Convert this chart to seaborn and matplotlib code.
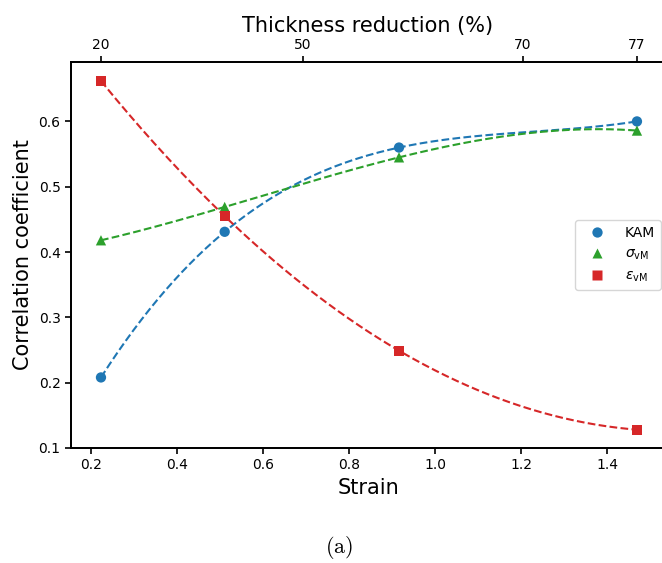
import numpy as np
import pandas as pd
import matplotlib
matplotlib.use("Agg")
import matplotlib.pyplot as plt
import seaborn as sns

# thickness reductions (%) of the four samples, strain = -ln(1 - r)
reduction = [20, 40, 60, 77]
kam = [0.208, 0.431, 0.560, 0.600]
sigma_vm = [0.418, 0.469, 0.545, 0.586]
eps_vm = [0.662, 0.455, 0.249, 0.128]

series_names = ["KAM", r"$\sigma_{\rm vM}$", r"$\varepsilon_{\rm vM}$"]
series_vals = [kam, sigma_vm, eps_vm]
colors = ["#1f77b4", "#2ca02c", "#d62728"]
marker_list = ["o", "^", "s"]

top_ticks = [20, 50, 70, 77]

strain = -np.log(1 - np.array(reduction) / 100.0)

# points table
pts = pd.DataFrame({
    "strain": np.tile(strain, 3),
    "value": np.concatenate(series_vals),
    "series": np.repeat(series_names, len(strain)),
})

# cubic fit through each series for the dashed curves
grid = np.linspace(strain.min(), strain.max(), 200)
fit_rows = []
for name, vals in zip(series_names, series_vals):
    coef = np.polyfit(strain, vals, 3)
    fit_rows.append(pd.DataFrame({"strain": grid, "value": np.polyval(coef, grid), "series": name}))
fits = pd.concat(fit_rows, ignore_index=True)

palette = dict(zip(series_names, colors))
markers = dict(zip(series_names, marker_list))

fig = plt.figure(figsize=(6.62, 5.63), dpi=100)
# axes runs slightly past the right edge of the figure (cropped like the original)
ax = fig.add_axes([0.1073, 0.2043, 0.8973, 0.6856])

sns.lineplot(data=fits, x="strain", y="value", hue="series", palette=palette,
             linestyle="--", linewidth=1.5, legend=False, ax=ax, zorder=2)
sns.scatterplot(data=pts, x="strain", y="value", hue="series", style="series",
                palette=palette, markers=markers, s=55, edgecolor="none",
                ax=ax, zorder=3)

leg = ax.get_legend()
handles = leg.legend_handles
labels = [t.get_text() for t in leg.get_texts()]
ax.legend(handles, labels, loc="center right", fontsize=10, borderaxespad=0.3,
          handlelength=2.4, bbox_to_anchor=(1.0, 0.5))

ax.set_xlim(0.1535, 1.535)
ax.set_ylim(0.1, 0.691)
ax.set_xticks([0.2, 0.4, 0.6, 0.8, 1.0, 1.2, 1.4])
ax.set_yticks([0.1, 0.2, 0.3, 0.4, 0.5, 0.6])
ax.set_xlabel("Strain", fontsize=15)
ax.set_ylabel("Correlation coefficient", fontsize=15)
ax.tick_params(labelsize=10, width=1.2, length=4, colors="black")
for sp in ax.spines.values():
    sp.set_linewidth(1.3)
    sp.set_color("black")

# top axis in thickness reduction
ax2 = ax.twiny()
ax2.set_xlim(ax.get_xlim())
ax2.set_xticks(-np.log(1 - np.array(top_ticks) / 100.0))
ax2.set_xticklabels([str(t) for t in top_ticks])
ax2.set_xlabel("Thickness reduction (%)", fontsize=15)
ax2.tick_params(labelsize=10, width=1.2, length=4)
for sp in ax2.spines.values():
    sp.set_linewidth(1.3)

fig.text(0.513, 0.027, r"$\mathrm{(a)}$", fontsize=16, ha="center",
         va="center", math_fontfamily="cm")

fig.savefig("out.png", dpi=100)
